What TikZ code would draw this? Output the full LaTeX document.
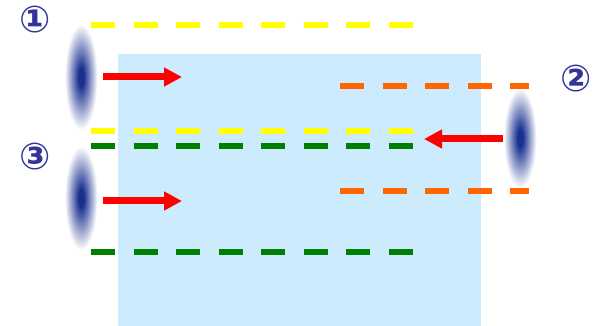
\documentclass[tikz,border=0pt]{standalone}
\usepackage{fontspec}
\newfontfamily\symfont{DejaVu Sans}
\usetikzlibrary{arrows.meta}
\definecolor{paleblue}{HTML}{CCEBFC}
\definecolor{dyellow}{HTML}{FFFF00}
\definecolor{dgreen}{HTML}{008000}
\definecolor{dorange}{HTML}{FF6600}
\definecolor{numblue}{HTML}{333399}
\definecolor{blobblue}{HTML}{1A3090}
\pgfdeclareradialshading{blob}{\pgfpoint{0bp}{0bp}}{color(0bp)=(blobblue); color(4bp)=(blobblue); color(24bp)=(white); color(50bp)=(white)}
\tikzset{
  dashline/.style={line width=5.5pt, dash pattern=on 24pt off 18.5pt},
  beam/.style={red, line width=7pt, -{Triangle[length=18pt,width=18pt]}},
  blobshape/.style={shading=blob},
  numlabel/.style={text=numblue, font=\symfont\bfseries\fontsize{37}{37}\selectfont, inner sep=0pt}
}
\begin{document}
\begin{tikzpicture}[x=1pt,y=-1pt]
\useasboundingbox (0,0) rectangle (595,326);
\fill[paleblue] (118,54) rectangle (481,326);
% blurred sources
\shade[blobshape] (81,77) ellipse (17 and 55);
\shade[blobshape] (81,198) ellipse (17 and 54);
\shade[blobshape] (520,138) ellipse (17 and 52);
% dashed lines
\coordinate (y1a) at (91,25);  \coordinate (y1b) at (413,25);
\coordinate (y2a) at (91,131); \coordinate (y2b) at (413,131);
\coordinate (g1a) at (91,146); \coordinate (g1b) at (413,146);
\coordinate (g2a) at (91,252); \coordinate (g2b) at (413,252);
\coordinate (o1a) at (340,86); \coordinate (o1b) at (529,86);
\coordinate (o2a) at (340,191); \coordinate (o2b) at (529,191);
\draw[dashline, dyellow] (y1a) -- (y1b);
\draw[dashline, dyellow] (y2a) -- (y2b);
\draw[dashline, dgreen] (g1a) -- (g1b);
\draw[dashline, dgreen] (g2a) -- (g2b);
\draw[dashline, dorange] (o1a) -- (o1b);
\draw[dashline, dorange] (o2a) -- (o2b);
% arrows
\coordinate (a1s) at (103,77);  \coordinate (a1e) at (182,77);
\coordinate (a3s) at (103,201); \coordinate (a3e) at (182,201);
\coordinate (a2s) at (503,139); \coordinate (a2e) at (424,139);
\draw[beam] (a1s) -- (a1e);
\draw[beam] (a3s) -- (a3e);
\draw[beam] (a2s) -- (a2e);
% numbers
\node[numlabel] (n1) at (35,20) {①};
\node[numlabel] (n2) at (576,79) {②};
\node[numlabel] (n3) at (35,157) {③};
\end{tikzpicture}
\end{document}
